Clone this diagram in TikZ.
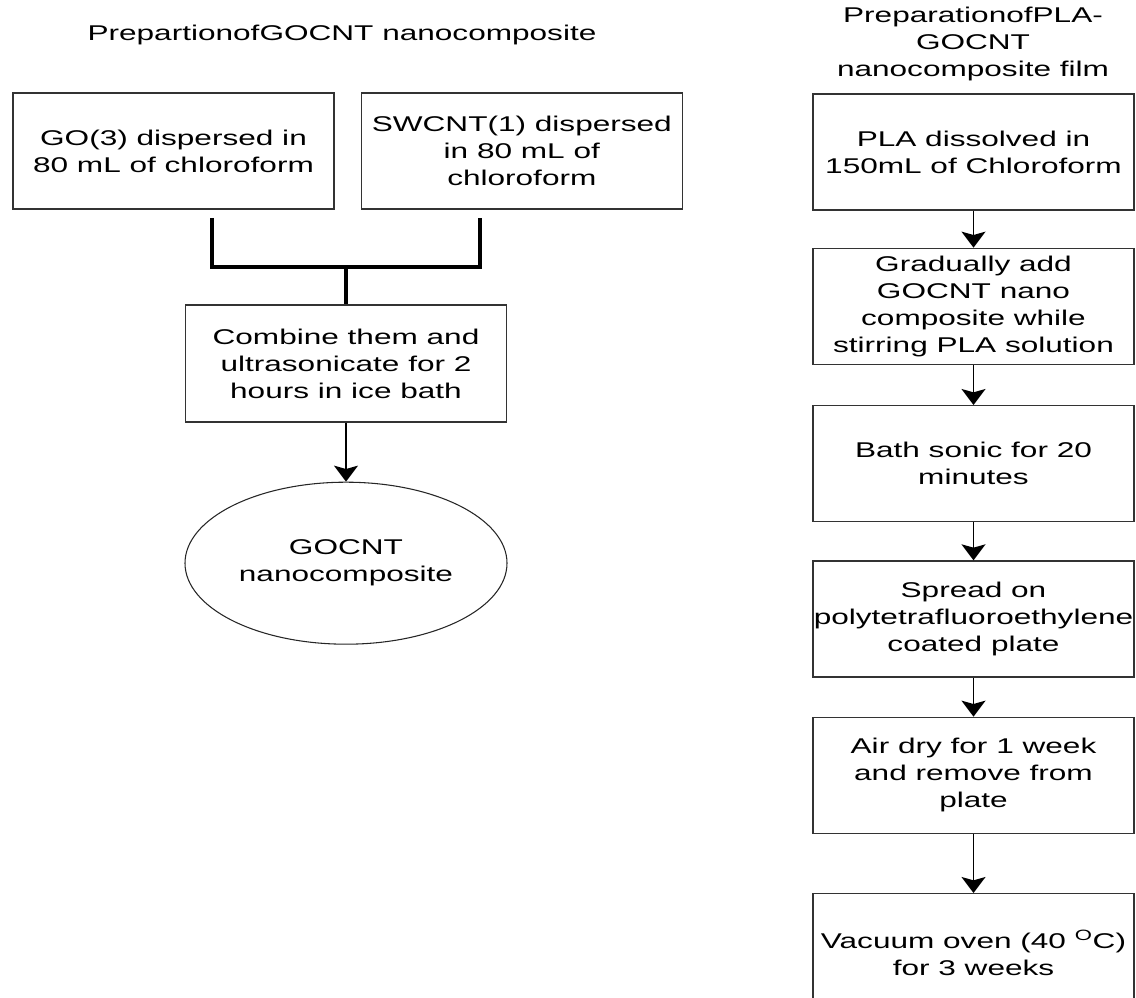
\documentclass[tikz,border=0pt]{standalone}
\usepackage{fontspec}
\setmainfont{Liberation Sans}[FakeStretch=1.48]
\usetikzlibrary{arrows.meta}
\usetikzlibrary{positioning, shapes.geometric}

\begin{document}
\begin{tikzpicture}[x=0.75pt,y=0.75pt,-{Stealth[length=12pt,width=18pt,inset=2.5pt]},line width=1.2pt,
    font=\fontsize{16pt}{20.25pt}\selectfont,node distance=29pt,
    step node/.style={rectangle,draw=black!80,line width=1pt,minimum width=240.75pt,minimum height=87pt,inner sep=0pt,align=center},
    title node/.style={align=center},
    end node/.style={ellipse,draw=black!85,line width=0.8pt,minimum width=241.5pt,minimum height=121.5pt,inner sep=0pt,align=center},
    bracket/.style={-,line width=2.6pt}]
        \useasboundingbox (0,0) rectangle (1136,997);

        % left: GOCNT
        \node[title node] (lefttitle) at (342,962) {PrepartionofGOCNT nanocomposite};
        \node[step node] (go) at (173.5,846)      {GO(3) dispersed in\\80 mL of chloroform};
        \node[step node] (swcnt) [right=19.5pt of go] {SWCNT(1) dispersed\\in 80 mL of\\chloroform};
        \coordinate (goleg) at (212,779);
        \coordinate (swleg) at (480,779);
        \coordinate (joint) at (346,730);
        \node[step node, minimum height=87.75pt] (combine) at (346,633.5) {Combine them and\\ultrasonicate for 2\\hours in ice bath};
        \node[end node] (gocnt) [below=44.25pt of combine] {GOCNT\\nanocomposite};

        % right: PLA-GOCNT film
        \node[title node] (righttitle) at (973,953) {PreparationofPLA-\\GOCNT\\nanocomposite film};
        \node[step node] (pla) at (973.5,845)          {PLA dissolved in\\150mL of Chloroform};
        \node[step node] (add) [below=27.75pt of pla]  {Gradually add\\GOCNT nano\\composite while\\stirring PLA solution};
        \node[step node] (sonic) [below=30pt of add]   {Bath sonic for 20\\minutes};
        \node[step node] (spread) [below=28.5pt of sonic] {Spread on\\polytetrafluoroethylene\\coated plate};
        \node[step node] (airdry) [below=29.25pt of spread] {Air dry for 1 week\\and remove from\\plate};
        \node[step node, minimum height=89.25pt] (oven) [below=44.25pt of airdry] {Vacuum oven (40 \textsuperscript{O}C)\\for 3 weeks};

        \draw[bracket] (goleg) |- (joint) -| (swleg);
        \draw[bracket] (joint) -- (combine);
        \draw (combine) -- (gocnt);

        \path
            (pla)    edge (add)
            (add)    edge (sonic)
            (sonic)  edge (spread)
            (spread) edge (airdry)
            (airdry) edge (oven);
\end{tikzpicture}
\end{document}
